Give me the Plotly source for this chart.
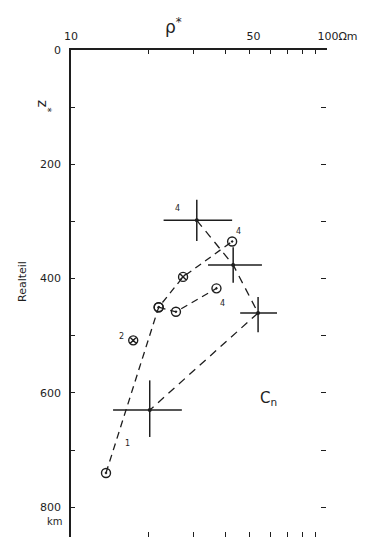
import numpy as np
import plotly.graph_objects as go

# ---- data (rho* in Ohm m, depth z* in km) ----
# circle-dot measurement points, path "1"
path1_rho = [13.7, 22.0, 27.4, 42.6]
path1_z = [740, 450, 397, 335]
path1_sym = ["circle-open-dot", "circle-open-dot", "circle-x-open", "circle-open-dot"]

# circle-dot measurement points, path "4"
path4_rho = [22.0, 25.7, 37.0]
path4_z = [450, 458, 417]

# isolated point "2"
pt2_rho = [17.5]
pt2_z = [508]

# crosses with error bars
cross_rho = [31.0, 43.0, 53.8, 20.3]
cross_z = [298, 376, 460, 630]
cross_rho_lo = [23.0, 34.3, 45.8, 14.6]
cross_rho_hi = [42.6, 55.7, 63.8, 27.1]
cross_z_lo = [262, 345, 432, 578]
cross_z_hi = [334, 407, 494, 677]

# labels
lab_text = ["4", "4", "4", "2", "1"]
lab_rho = [26.0, 45.0, 39.0, 15.8, 16.6]
lab_z = [278, 318, 443, 502, 688]

FS = "\u2007"  # figure space, used to push a tick label to the right
x_tickvals = [10, 20, 30, 40, 50, 60, 70, 80, 90, 100]
x_ticktext = ["10", "", "", "", FS + "50", "", "", "", "", FS * 3 + "100Ωm"]
y_tickvals = [0, 100, 200, 300, 400, 500, 600, 700, 800]
y_ticktext = ["0", "", "200", "", "400", "", "600", "", "800"]
right_tickvals = [100, 200, 300, 400, 500, 600, 700, 800]
bottom_tickvals = [20, 30, 40, 50, 60, 70, 80, 90, 100]

INK = "#1e1e1e"
FONT = "DejaVu Sans"

fig = go.Figure()

# dashed connection lines
fig.add_trace(go.Scatter(x=path1_rho, y=path1_z, mode="lines",
                         line=dict(color=INK, width=1.3, dash="7px,5px"),
                         hoverinfo="skip", showlegend=False))
fig.add_trace(go.Scatter(x=path4_rho, y=path4_z, mode="lines",
                         line=dict(color=INK, width=1.3, dash="7px,5px"),
                         hoverinfo="skip", showlegend=False))
fig.add_trace(go.Scatter(x=cross_rho, y=cross_z, mode="lines",
                         line=dict(color=INK, width=1.3, dash="8px,6px"),
                         hoverinfo="skip", showlegend=False))

# crosses (error bars)
fig.add_trace(go.Scatter(
    x=cross_rho, y=cross_z, mode="markers",
    marker=dict(symbol="circle", size=4, color=INK),
    error_x=dict(type="data", symmetric=False,
                 array=[h - c for h, c in zip(cross_rho_hi, cross_rho)],
                 arrayminus=[c - l for l, c in zip(cross_rho_lo, cross_rho)],
                 color=INK, thickness=1.5, width=0),
    error_y=dict(type="data", symmetric=False,
                 array=[h - c for h, c in zip(cross_z_hi, cross_z)],
                 arrayminus=[c - l for l, c in zip(cross_z_lo, cross_z)],
                 color=INK, thickness=1.5, width=0),
    showlegend=False))

# circle markers
fig.add_trace(go.Scatter(x=path1_rho, y=path1_z, mode="markers",
                         marker=dict(symbol=path1_sym, size=9, color=INK,
                                     line=dict(color=INK, width=1.4)),
                         showlegend=False))
fig.add_trace(go.Scatter(x=path4_rho, y=path4_z, mode="markers",
                         marker=dict(symbol="circle-open-dot", size=9, color=INK,
                                     line=dict(color=INK, width=1.4)),
                         showlegend=False))
fig.add_trace(go.Scatter(x=pt2_rho, y=pt2_z, mode="markers",
                         marker=dict(symbol="circle-x-open", size=9, color=INK,
                                     line=dict(color=INK, width=1.4)),
                         showlegend=False))

# helper traces so the extra tick axes are drawn
fig.add_trace(go.Scatter(x=[None], y=[None], yaxis="y2", xaxis="x",
                         showlegend=False, hoverinfo="skip"))
fig.add_trace(go.Scatter(x=[None], y=[None], xaxis="x2", yaxis="y",
                         showlegend=False, hoverinfo="skip"))

for t, r, z in zip(lab_text, lab_rho, lab_z):
    fig.add_annotation(x=np.log10(r), y=z, text=t, showarrow=False,
                       font=dict(family=FONT, size=8, color=INK))

fig.add_annotation(x=np.log10(59), y=610, text="C<sub>n</sub>", showarrow=False,
                   font=dict(family=FONT, size=15, color=INK))

# titles / units
fig.add_annotation(xref="paper", yref="paper", x=0.4, y=1.0, yshift=37,
                   text="ρ<sup>*</sup>", showarrow=False,
                   font=dict(family=FONT, size=17, color=INK))
fig.add_annotation(xref="paper", yref="y", x=0, xshift=-38, y=98,
                   text="z<sup>*</sup>", textangle=90, showarrow=False,
                   font=dict(family=FONT, size=14, color=INK))
fig.add_annotation(xref="paper", yref="y", x=0, xshift=-57, y=405,
                   text="Realteil", textangle=-90, showarrow=False,
                   font=dict(family=FONT, size=11, color=INK))
fig.add_annotation(xref="paper", yref="y", x=0, xshift=-26, y=800, yshift=-14,
                   text="km", showarrow=False,
                   font=dict(family=FONT, size=10, color=INK))

# the page body adds an 8px offset, so the figure is sized to fit the window
fig.update_layout(
    width=361, height=533,
    margin=dict(l=63, r=42, t=42, b=4),
    paper_bgcolor="white", plot_bgcolor="white",
    font=dict(family=FONT, size=11, color=INK),
    xaxis=dict(type="log", range=[1, 2], side="top", automargin=False,
               tickvals=x_tickvals, ticktext=x_ticktext,
               ticks="inside", ticklen=4, tickcolor=INK, tickwidth=1.2,
               ticklabelstandoff=4,
               showline=True, linecolor=INK, linewidth=1.6,
               showgrid=False, zeroline=False,
               tickfont=dict(family=FONT, size=11, color=INK)),
    yaxis=dict(range=[852, 0], automargin=False,
               tickvals=y_tickvals, ticktext=y_ticktext,
               ticks="inside", ticklen=4, tickcolor=INK, tickwidth=1.2,
               ticklabelstandoff=6,
               showline=True, linecolor=INK, linewidth=1.6,
               showgrid=False, zeroline=False,
               tickfont=dict(family=FONT, size=11, color=INK)),
    yaxis2=dict(range=[852, 0], overlaying="y", side="right",
                anchor="free", position=0.973, automargin=False,
                tickvals=right_tickvals, ticks="outside", ticklen=5,
                tickcolor=INK, tickwidth=1.2,
                showticklabels=False, showline=False, showgrid=False,
                zeroline=False),
    xaxis2=dict(type="log", range=[1, 2], overlaying="x", side="bottom",
                anchor="y", automargin=False,
                tickvals=bottom_tickvals, ticks="inside", ticklen=5,
                tickcolor=INK, tickwidth=1.2,
                showticklabels=False, showline=False, showgrid=False,
                zeroline=False),
)

fig.write_html("out.html")
